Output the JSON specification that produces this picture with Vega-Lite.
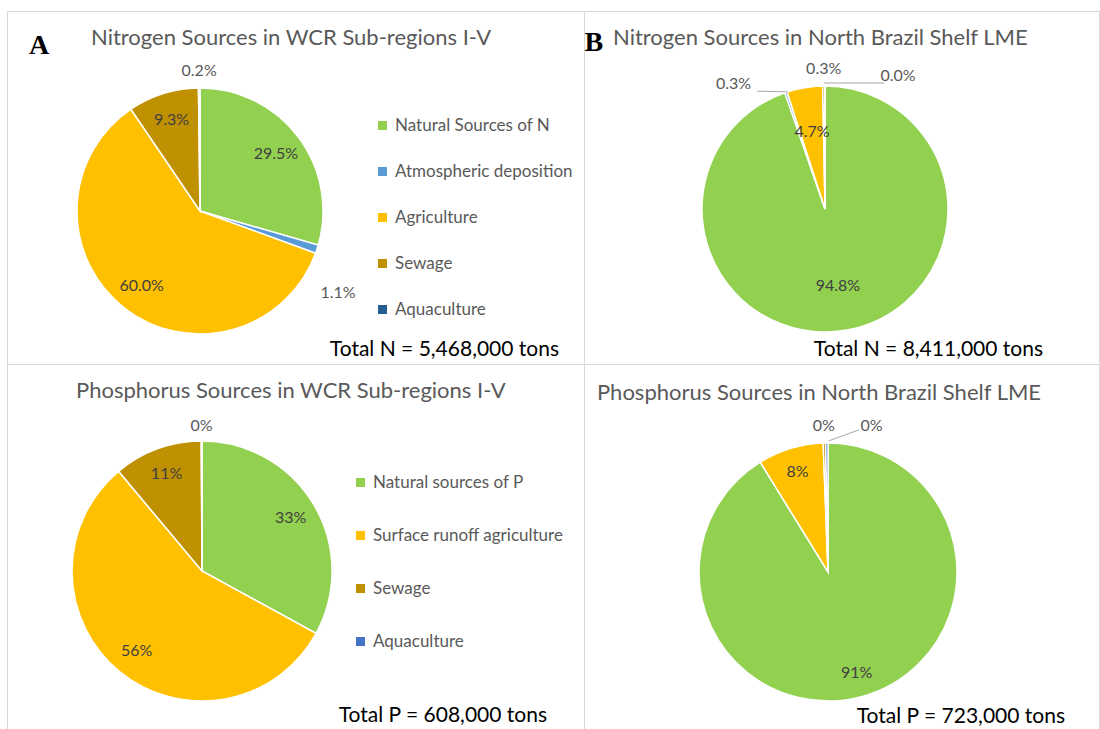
{
  "$schema": "https://vega.github.io/schema/vega-lite/v6.json",
  "padding": {"left": 6, "top": 10, "right": 0, "bottom": 0},
  "background": "white",
  "config": {
    "view": {"stroke": "#d9d9d9", "strokeWidth": 1},
    "font": "Lato",
    "text": {"font": "Lato"},
    "concat": {"spacing": 0}
  },
  "datasets": {
    "wcrN": [
      {"i": 1, "source": "Natural  Sources of N", "share": 0.295},
      {"i": 2, "source": "Atmospheric deposition", "share": 0.011},
      {"i": 3, "source": "Agriculture", "share": 0.600},
      {"i": 4, "source": "Sewage", "share": 0.093},
      {"i": 5, "source": "Aquaculture", "share": 0.002}
    ],
    "nbsN": [
      {"i": 1, "source": "Natural  Sources of N", "share": 0.948},
      {"i": 2, "source": "Atmospheric deposition", "share": 0.003},
      {"i": 3, "source": "Agriculture", "share": 0.047},
      {"i": 4, "source": "Sewage", "share": 0.003},
      {"i": 5, "source": "Aquaculture", "share": 0.0}
    ],
    "wcrP": [
      {"i": 1, "source": "Natural sources of P", "share": 0.33},
      {"i": 2, "source": "Surface runoff agriculture", "share": 0.56},
      {"i": 3, "source": "Sewage", "share": 0.11},
      {"i": 4, "source": "Aquaculture", "share": 0.001}
    ],
    "nbsP": [
      {"i": 1, "source": "Natural sources of P", "share": 0.912},
      {"i": 2, "source": "Surface runoff agriculture", "share": 0.082},
      {"i": 3, "source": "Sewage", "share": 0.003},
      {"i": 4, "source": "Aquaculture", "share": 0.003}
    ],
    "titles": [
      {"panel": "A", "title": "Nitrogen Sources in WCR Sub-regions I-V", "total": "Total N = 5,468,000 tons"},
      {"panel": "B", "title": "Nitrogen Sources in North Brazil Shelf LME", "total": "Total N = 8,411,000 tons"},
      {"panel": "C", "title": "Phosphorus Sources in WCR Sub-regions I-V", "total": "Total P = 608,000 tons"},
      {"panel": "D", "title": "Phosphorus Sources in North Brazil Shelf  LME", "total": "Total P = 723,000 tons"}
    ]
  },
  "columns": 2,
  "spacing": 0,
  "bounds": "flush",
  "resolve": {
    "scale": {"x": "independent", "y": "independent", "color": "independent", "theta": "independent"},
    "legend": {"color": "independent"}
  },
  "concat": [
    {
      "width": 577, "height": 353,
      "data": {"name": "wcrN"},
      "encoding": {
        "x": {"datum": 33.45, "type": "quantitative", "scale": {"domain": [0, 100]}, "axis": null},
        "y": {"datum": 56.66, "type": "quantitative", "scale": {"domain": [0, 100], "reverse": true}, "axis": null}
      },
      "layer": [
        {
          "mark": {"type": "arc", "outerRadius": 123, "stroke": "white", "strokeWidth": 1.5},
          "encoding": {
            "theta": {"field": "share", "type": "quantitative", "stack": true},
            "order": {"field": "i", "type": "quantitative"},
            "color": {
              "field": "source", "type": "nominal",
              "scale": {"domain": ["Natural  Sources of N", "Atmospheric deposition", "Agriculture", "Sewage", "Aquaculture"], "range": ["#92D050", "#5B9BD5", "#FFC000", "#BF9000", "#255E91"]},
              "legend": {"title": null, "orient": "none", "legendX": 367, "legendY": 106, "symbolType": "square", "symbolSize": 81, "symbolStrokeWidth": 0, "labelFontSize": 17, "labelColor": "#595959", "labelFont": "Lato", "labelLimit": 300, "rowPadding": 28, "labelOffset": 4}
            }
          }
        },
        {
          "mark": {"type": "text", "radius": 95, "fontSize": 16, "fill": "#404040", "align": "center", "baseline": "middle"},
          "encoding": {
            "theta": {"field": "share", "type": "quantitative", "stack": true},
            "order": {"field": "i", "type": "quantitative"},
            "detail": {"field": "source", "type": "nominal"},
            "text": {"condition": {"test": "datum.share >= 0.02", "field": "share", "type": "quantitative", "format": ".1%"}, "value": ""}
          }
        },
        {
          "mark": {"type": "text", "radius": 140, "fontSize": 16, "fill": "#595959", "align": "center", "baseline": "middle"},
          "encoding": {
            "theta": {"field": "share", "type": "quantitative", "stack": true},
            "order": {"field": "i", "type": "quantitative"},
            "detail": {"field": "source", "type": "nominal"},
            "text": {"condition": {"test": "datum.share < 0.02 && datum.i !== 2", "field": "share", "type": "quantitative", "format": ".1%"}, "value": ""}
          }
        },
        {
          "mark": {"type": "text", "radius": 140, "dx": 5, "dy": 39, "fontSize": 16, "fill": "#595959", "align": "center", "baseline": "middle"},
          "encoding": {
            "theta": {"field": "share", "type": "quantitative", "stack": true},
            "order": {"field": "i", "type": "quantitative"},
            "detail": {"field": "source", "type": "nominal"},
            "text": {"condition": {"test": "datum.i === 2", "field": "share", "type": "quantitative", "format": ".1%"}, "value": ""}
          }
        },
        {
          "data": {"name": "titles"},
          "transform": [{"filter": "datum.panel === 'A'"}],
          "layer": [
            {
              "mark": {"type": "text", "align": "left", "baseline": "middle", "fontSize": 22, "fill": "#595959"},
              "encoding": {
                "x": {"datum": 14.56, "type": "quantitative"},
                "y": {"datum": 7.65, "type": "quantitative"},
                "text": {"field": "title"}
              }
            },
            {
              "mark": {"type": "text", "align": "left", "baseline": "middle", "fontSize": 28, "font": "Liberation Serif", "fontWeight": "bold", "fill": "black"},
              "encoding": {
                "x": {"datum": 3.81, "type": "quantitative"},
                "y": {"datum": 9.92, "type": "quantitative"},
                "text": {"field": "panel"}
              }
            },
            {
              "mark": {"type": "text", "align": "right", "baseline": "middle", "fontSize": 21, "fill": "black"},
              "encoding": {
                "x": {"datum": 95.67, "type": "quantitative"},
                "y": {"datum": 96.03, "type": "quantitative"},
                "text": {"field": "total"}
              }
            }
          ]
        }
      ]
    },
    {
      "width": 515, "height": 353,
      "data": {"name": "nbsN"},
      "encoding": {
        "x": {"datum": 46.80, "type": "quantitative", "scale": {"domain": [0, 100]}, "axis": null},
        "y": {"datum": 56.09, "type": "quantitative", "scale": {"domain": [0, 100], "reverse": true}, "axis": null}
      },
      "layer": [
        {
          "mark": {"type": "arc", "outerRadius": 123, "stroke": "white", "strokeWidth": 1.5},
          "encoding": {
            "theta": {"field": "share", "type": "quantitative", "stack": true},
            "order": {"field": "i", "type": "quantitative"},
            "color": {
              "field": "source", "type": "nominal",
              "scale": {"domain": ["Natural  Sources of N", "Atmospheric deposition", "Agriculture", "Sewage", "Aquaculture"], "range": ["#92D050", "#5B9BD5", "#FFC000", "#BF9000", "#255E91"]},
              "legend": null
            }
          }
        },
        {
          "mark": {"type": "text", "radius": 78, "fontSize": 16, "fill": "#404040", "align": "center", "baseline": "middle"},
          "encoding": {
            "theta": {"field": "share", "type": "quantitative", "stack": true},
            "order": {"field": "i", "type": "quantitative"},
            "detail": {"field": "source", "type": "nominal"},
            "text": {"condition": {"test": "datum.share >= 0.02", "field": "share", "type": "quantitative", "format": ".1%"}, "value": ""}
          }
        },
        {
          "mark": {"type": "text", "radius": 140, "fontSize": 16, "fill": "#595959", "align": "center", "baseline": "middle"},
          "encoding": {
            "theta": {"field": "share", "type": "quantitative", "stack": true},
            "order": {"field": "i", "type": "quantitative"},
            "detail": {"field": "source", "type": "nominal"},
            "text": {"condition": {"test": "datum.i === 4", "field": "share", "type": "quantitative", "format": ".1%"}, "value": ""}
          }
        },
        {
          "mark": {"type": "text", "radius": 140, "dx": -47, "dy": 8, "fontSize": 16, "fill": "#595959", "align": "center", "baseline": "middle"},
          "encoding": {
            "theta": {"field": "share", "type": "quantitative", "stack": true},
            "order": {"field": "i", "type": "quantitative"},
            "detail": {"field": "source", "type": "nominal"},
            "text": {"condition": {"test": "datum.i === 2", "field": "share", "type": "quantitative", "format": ".1%"}, "value": ""}
          }
        },
        {
          "mark": {"type": "text", "radius": 140, "dx": 73, "dy": 7, "fontSize": 16, "fill": "#595959", "align": "center", "baseline": "middle"},
          "encoding": {
            "theta": {"field": "share", "type": "quantitative", "stack": true},
            "order": {"field": "i", "type": "quantitative"},
            "detail": {"field": "source", "type": "nominal"},
            "text": {"condition": {"test": "datum.i === 5", "field": "share", "type": "quantitative", "format": ".1%"}, "value": ""}
          }
        },
        {
          "data": {"name": "titles"},
          "transform": [{"filter": "datum.panel === 'B'"}],
          "layer": [
            {
              "mark": {"type": "rule", "stroke": "#a6a6a6", "strokeWidth": 1},
              "encoding": {
                "x": {"datum": 33.6, "type": "quantitative"},
                "x2": {"datum": 39.6},
                "y": {"datum": 22.7, "type": "quantitative"},
                "y2": {"datum": 22.9}
              }
            },
            {
              "mark": {"type": "rule", "stroke": "#a6a6a6", "strokeWidth": 1},
              "encoding": {
                "x": {"datum": 46.6, "type": "quantitative"},
                "x2": {"datum": 58.3},
                "y": {"datum": 20.4, "type": "quantitative"},
                "y2": {"datum": 20.4}
              }
            },
            {
              "mark": {"type": "text", "align": "left", "baseline": "middle", "fontSize": 22, "fill": "#595959"},
              "encoding": {
                "x": {"datum": 5.63, "type": "quantitative"},
                "y": {"datum": 7.65, "type": "quantitative"},
                "text": {"field": "title"}
              }
            },
            {
              "mark": {"type": "text", "align": "left", "baseline": "middle", "fontSize": 28, "font": "Liberation Serif", "fontWeight": "bold", "fill": "black"},
              "encoding": {
                "x": {"datum": 0.1, "type": "quantitative"},
                "y": {"datum": 9.07, "type": "quantitative"},
                "text": {"field": "panel"}
              }
            },
            {
              "mark": {"type": "text", "align": "right", "baseline": "middle", "fontSize": 21, "fill": "black"},
              "encoding": {
                "x": {"datum": 89.13, "type": "quantitative"},
                "y": {"datum": 96.03, "type": "quantitative"},
                "text": {"field": "total"}
              }
            }
          ]
        }
      ]
    },
    {
      "width": 577, "height": 366,
      "data": {"name": "wcrP"},
      "encoding": {
        "x": {"datum": 33.80, "type": "quantitative", "scale": {"domain": [0, 100]}, "axis": null},
        "y": {"datum": 56.56, "type": "quantitative", "scale": {"domain": [0, 100], "reverse": true}, "axis": null}
      },
      "layer": [
        {
          "mark": {"type": "arc", "outerRadius": 130, "stroke": "white", "strokeWidth": 1.5},
          "encoding": {
            "theta": {"field": "share", "type": "quantitative", "stack": true},
            "order": {"field": "i", "type": "quantitative"},
            "color": {
              "field": "source", "type": "nominal",
              "scale": {"domain": ["Natural sources of P", "Surface runoff agriculture", "Sewage", "Aquaculture"], "range": ["#92D050", "#FFC000", "#BF9000", "#4472C4"]},
              "legend": {"title": null, "orient": "none", "legendX": 345, "legendY": 110, "symbolType": "square", "symbolSize": 81, "symbolStrokeWidth": 0, "labelFontSize": 17, "labelColor": "#595959", "labelFont": "Lato", "labelLimit": 300, "rowPadding": 35, "labelOffset": 4}
            }
          }
        },
        {
          "mark": {"type": "text", "radius": 103, "fontSize": 16, "fill": "#404040", "align": "center", "baseline": "middle"},
          "encoding": {
            "theta": {"field": "share", "type": "quantitative", "stack": true},
            "order": {"field": "i", "type": "quantitative"},
            "detail": {"field": "source", "type": "nominal"},
            "text": {"condition": {"test": "datum.share >= 0.02", "field": "share", "type": "quantitative", "format": ".0%"}, "value": ""}
          }
        },
        {
          "mark": {"type": "text", "radius": 145, "fontSize": 16, "fill": "#595959", "align": "center", "baseline": "middle"},
          "encoding": {
            "theta": {"field": "share", "type": "quantitative", "stack": true},
            "order": {"field": "i", "type": "quantitative"},
            "detail": {"field": "source", "type": "nominal"},
            "text": {"condition": {"test": "datum.share < 0.02", "field": "share", "type": "quantitative", "format": ".0%"}, "value": ""}
          }
        },
        {
          "data": {"name": "titles"},
          "transform": [{"filter": "datum.panel === 'C'"}],
          "layer": [
            {
              "mark": {"type": "text", "align": "left", "baseline": "middle", "fontSize": 22, "fill": "#595959"},
              "encoding": {
                "x": {"datum": 11.96, "type": "quantitative"},
                "y": {"datum": 7.38, "type": "quantitative"},
                "text": {"field": "title"}
              }
            },
            {
              "mark": {"type": "text", "align": "right", "baseline": "middle", "fontSize": 21, "fill": "black"},
              "encoding": {
                "x": {"datum": 93.59, "type": "quantitative"},
                "y": {"datum": 96.17, "type": "quantitative"},
                "text": {"field": "total"}
              }
            }
          ]
        }
      ]
    },
    {
      "width": 515, "height": 366,
      "data": {"name": "nbsP"},
      "encoding": {
        "x": {"datum": 47.38, "type": "quantitative", "scale": {"domain": [0, 100]}, "axis": null},
        "y": {"datum": 56.83, "type": "quantitative", "scale": {"domain": [0, 100], "reverse": true}, "axis": null}
      },
      "layer": [
        {
          "mark": {"type": "arc", "outerRadius": 129, "stroke": "white", "strokeWidth": 1.5},
          "encoding": {
            "theta": {"field": "share", "type": "quantitative", "stack": true},
            "order": {"field": "i", "type": "quantitative"},
            "color": {
              "field": "source", "type": "nominal",
              "scale": {"domain": ["Natural sources of P", "Surface runoff agriculture", "Sewage", "Aquaculture"], "range": ["#92D050", "#FFC000", "#BF9000", "#4472C4"]},
              "legend": null
            }
          }
        },
        {
          "mark": {"type": "text", "radius": 105, "fontSize": 16, "fill": "#404040", "align": "center", "baseline": "middle"},
          "encoding": {
            "theta": {"field": "share", "type": "quantitative", "stack": true},
            "order": {"field": "i", "type": "quantitative"},
            "detail": {"field": "source", "type": "nominal"},
            "text": {"condition": {"test": "datum.share >= 0.02", "field": "share", "type": "quantitative", "format": ".0%"}, "value": ""}
          }
        },
        {
          "mark": {"type": "text", "radius": 146, "fontSize": 16, "fill": "#595959", "align": "center", "baseline": "middle"},
          "encoding": {
            "theta": {"field": "share", "type": "quantitative", "stack": true},
            "order": {"field": "i", "type": "quantitative"},
            "detail": {"field": "source", "type": "nominal"},
            "text": {"condition": {"test": "datum.i === 3", "field": "share", "type": "quantitative", "format": ".0%"}, "value": ""}
          }
        },
        {
          "mark": {"type": "text", "radius": 146, "dx": 45, "fontSize": 16, "fill": "#595959", "align": "center", "baseline": "middle"},
          "encoding": {
            "theta": {"field": "share", "type": "quantitative", "stack": true},
            "order": {"field": "i", "type": "quantitative"},
            "detail": {"field": "source", "type": "nominal"},
            "text": {"condition": {"test": "datum.i === 4", "field": "share", "type": "quantitative", "format": ".0%"}, "value": ""}
          }
        },
        {
          "data": {"name": "titles"},
          "transform": [{"filter": "datum.panel === 'D'"}],
          "layer": [
            {
              "mark": {"type": "rule", "stroke": "#a6a6a6", "strokeWidth": 1},
              "encoding": {
                "x": {"datum": 47.5, "type": "quantitative"},
                "x2": {"datum": 53.4},
                "y": {"datum": 21.0, "type": "quantitative"},
                "y2": {"datum": 18.0}
              }
            },
            {
              "mark": {"type": "text", "align": "left", "baseline": "middle", "fontSize": 22, "fill": "#595959"},
              "encoding": {
                "x": {"datum": 2.52, "type": "quantitative"},
                "y": {"datum": 7.92, "type": "quantitative"},
                "text": {"field": "title"}
              }
            },
            {
              "mark": {"type": "text", "align": "right", "baseline": "middle", "fontSize": 21, "fill": "black"},
              "encoding": {
                "x": {"datum": 93.40, "type": "quantitative"},
                "y": {"datum": 96.45, "type": "quantitative"},
                "text": {"field": "total"}
              }
            }
          ]
        }
      ]
    }
  ]
}
